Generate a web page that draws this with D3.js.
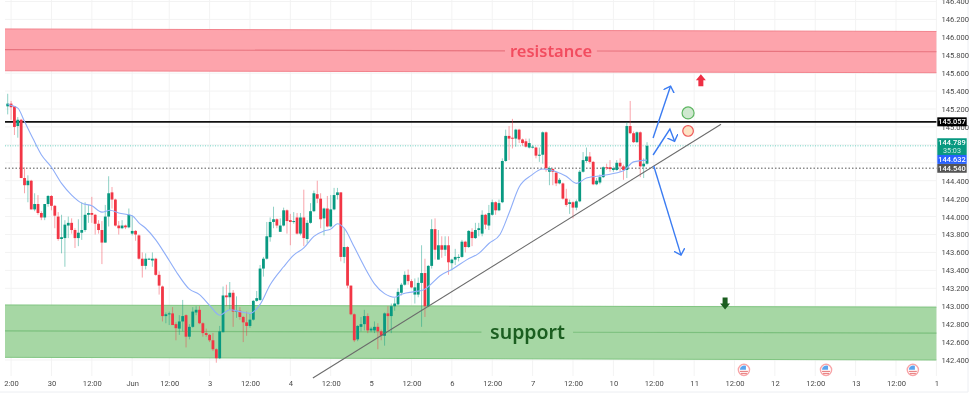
<!DOCTYPE html>
<html>
<head>
<meta charset="utf-8">
<script src="https://cdn.jsdelivr.net/npm/d3@7"></script>
<style>
  html, body { margin: 0; padding: 0; background: #fff; }
  svg { display: block; filter: blur(0.3px); }
  text { font-family: Roboto, "Liberation Sans", sans-serif; }
  .tick text { fill: #4a4a4a; font-size: 7.6px; }
  .grid line { stroke: #f3f3f3; }
  .zone-label { font-family: "Noto Sans", sans-serif; font-weight: 600; }
</style>
</head>
<body>
<div id="chart"></div>
<script>
// Hourly candles, one entry per bar, prices
const opens = [
  145.23,145.26,145.23,145.01,145.08,144.43,144.35,144.40,144.08,144.14,
  144.04,143.99,144.14,144.23,144.12,144.00,143.75,143.76,143.90,143.93,
  143.85,143.76,143.82,143.85,144.02,144.04,144.02,143.92,143.85,143.71,
  144.00,144.27,144.19,143.90,143.87,143.90,143.88,143.81,143.84,143.79,
  143.53,143.45,143.53,143.51,143.53,143.35,143.22,142.89,142.91,142.92,
  142.80,142.75,142.83,142.90,142.66,142.77,142.93,142.96,142.81,142.70,
  142.68,142.62,142.52,142.42,142.71,143.12,143.10,143.15,142.94,142.95,
  142.88,142.82,142.78,142.85,143.06,143.07,143.42,143.53,143.77,143.94,
  143.97,143.83,143.90,144.07,143.96,143.95,143.99,143.81,143.99,143.75,
  143.93,144.06,144.25,144.20,143.98,144.09,143.89,144.08,144.24,144.27,
  143.55,143.66,143.23,142.91,142.63,142.77,142.80,142.89,142.73,142.73,
  142.77,142.72,142.67,142.92,142.89,143.00,143.02,143.15,143.24,143.35,
  143.28,143.13,143.13,143.26,143.37,143.00,143.45,143.86,143.52,143.68,
  143.63,143.68,143.48,143.52,143.55,143.55,143.72,143.66,143.83,143.76,
  143.85,143.81,144.02,143.90,144.02,144.16,144.07,144.16,144.62,144.90,
  144.88,144.87,144.97,144.86,144.84,144.77,144.78,144.77,144.68,144.69,
  144.94,144.50,144.53,144.49,144.37,144.37,144.20,144.14,144.16,144.10,
  144.17,144.50,144.62,144.67,144.61,144.36,144.38,144.44,144.55,144.55,
  144.52,144.52,144.60,144.56,144.52,145.01,144.93,144.83,144.94,144.56,144.59
];
const closes = [
  145.26,145.22,145.00,145.08,144.43,144.35,144.40,144.08,144.14,144.04,
  143.99,144.14,144.23,144.12,144.01,143.75,143.77,143.91,143.93,143.85,
  143.76,143.82,143.85,144.02,144.04,144.02,143.92,143.85,143.71,144.00,
  144.26,144.19,143.90,143.87,143.90,143.88,144.02,143.84,143.80,143.53,
  143.45,143.53,143.53,143.53,143.35,143.23,142.89,142.91,142.92,142.79,
  142.755,142.83,142.89,142.66,142.77,142.94,142.96,142.81,142.70,142.68,
  142.62,142.52,142.42,142.72,143.12,143.10,143.15,142.94,142.95,142.88,
  142.82,142.78,142.85,143.06,143.09,143.42,143.53,143.78,143.94,143.97,
  143.90,143.90,144.07,143.95,143.94,143.95,143.81,143.99,143.76,143.93,
  144.06,144.26,144.20,143.97,144.09,143.89,144.08,144.24,144.27,143.55,
  143.66,143.23,142.91,142.62,142.78,142.80,142.89,142.73,142.75,142.77,
  142.72,142.67,142.92,142.89,143.00,143.03,143.16,143.24,143.35,143.28,
  143.21,143.21,143.26,143.37,143.00,143.45,143.86,143.63,143.68,143.63,
  143.68,143.49,143.52,143.55,143.55,143.72,143.66,143.84,143.76,143.85,
  143.87,144.02,143.91,144.04,144.16,144.07,144.15,144.62,144.90,144.87,
  144.87,144.97,144.86,144.82,144.78,144.82,144.78,144.68,144.69,144.94,
  144.54,144.54,144.50,144.37,144.41,144.20,144.13,144.16,144.10,144.17,
  144.50,144.63,144.67,144.61,144.36,144.40,144.44,144.55,144.54,144.53,
  144.54,144.60,144.56,144.52,145.01,144.93,144.83,144.94,144.56,144.59,144.79
];
const highs = [
  145.37,145.29,145.23,145.11,145.09,144.55,144.46,144.41,144.26,144.24,
  144.06,144.14,144.24,144.24,144.13,144.05,144.02,143.96,144.00,143.98,
  143.87,143.97,144.16,144.16,144.13,144.22,144.03,143.96,143.95,144.13,
  144.45,144.33,144.20,143.95,143.96,143.91,144.09,144.01,143.85,143.80,
  143.60,143.59,143.54,143.60,143.54,143.39,143.23,142.93,142.94,142.99,
  142.82,142.90,143.07,142.91,142.80,142.99,143.00,143.00,142.82,142.75,
  142.69,142.70,142.53,142.78,143.22,143.24,143.27,143.18,143.11,142.99,
  142.89,142.94,142.92,143.07,143.17,143.46,143.55,143.94,143.99,144.11,
  143.98,143.98,144.10,144.08,144.03,144.05,144.04,144.04,144.30,143.96,
  144.15,144.29,144.40,144.26,144.10,144.23,144.24,144.32,144.32,144.27,
  143.87,143.67,143.23,142.92,142.79,142.88,142.96,142.92,142.77,142.83,
  142.81,142.74,142.93,143.00,143.03,143.09,143.20,143.26,143.39,143.41,
  143.30,143.31,143.32,143.68,143.53,143.46,143.97,143.98,143.85,143.78,
  143.78,143.78,143.53,143.64,143.58,143.74,143.73,143.85,143.87,143.93,
  143.93,144.07,144.03,144.13,144.19,144.17,144.19,144.65,144.97,145.01,
  145.09,144.98,144.98,144.87,144.87,144.87,144.80,144.78,144.77,144.95,
  144.95,144.56,144.54,144.50,144.43,144.38,144.31,144.19,144.17,144.19,
  144.52,144.72,144.77,144.72,144.62,144.43,144.47,144.56,144.59,144.63,
  144.56,144.63,144.65,144.58,145.05,145.29,144.95,144.95,144.95,144.65,144.83
];
const lows = [
  145.14,145.08,144.91,144.88,144.43,144.26,144.16,144.08,144.06,144.02,
  143.96,143.96,144.11,144.07,143.87,143.73,143.59,143.44,143.76,143.81,
  143.65,143.67,143.74,143.83,143.93,143.93,143.80,143.81,143.47,143.71,
  143.89,144.09,143.89,143.80,143.86,143.86,143.87,143.79,143.73,143.52,
  143.32,143.41,143.52,143.44,143.34,143.13,142.83,142.81,142.79,142.79,
  142.62,142.68,142.72,142.54,142.63,142.76,142.90,142.80,142.66,142.66,
  142.60,142.50,142.37,142.41,142.71,143.00,142.96,142.77,142.87,142.85,
  142.60,142.67,142.76,142.84,143.05,143.06,143.33,143.52,143.72,143.87,
  143.87,143.83,143.89,143.81,143.68,143.92,143.80,143.79,143.67,143.70,
  143.92,144.05,144.15,143.87,143.79,143.88,143.88,144.07,144.19,143.50,
  143.48,143.20,142.90,142.60,142.61,142.72,142.73,142.70,142.71,142.70,
  142.52,142.62,142.56,142.73,142.70,142.95,143.01,143.12,143.23,143.24,
  143.20,143.03,143.10,142.77,142.88,142.99,143.42,143.52,143.52,143.54,
  143.56,143.35,143.40,143.46,143.50,143.54,143.60,143.65,143.67,143.75,
  143.78,143.78,143.86,143.85,144.01,144.02,144.06,144.15,144.61,144.63,
  144.76,144.78,144.82,144.79,144.77,144.76,144.76,144.65,144.61,144.59,
  144.50,144.35,144.35,144.34,144.36,144.19,144.11,144.03,143.98,144.07,
  144.16,144.49,144.60,144.59,144.35,144.35,144.36,144.43,144.52,144.50,
  144.50,144.51,144.50,144.41,144.43,144.92,144.82,144.82,144.44,144.43,144.58
];

// Moving average, sampled at these bars
const maBars = [0,3,5,7.5,10,13,16,19,22,25,28,30.4,33,37,39,41,44,47,50,54,57,60,63,66,69,72,75,78,82,85,88,91,94,96,98,100,103,106,109,112,115,117.5,120.5,123.5,125,128.5,132,136.5,140,143,146.3,149,152,155.6,159,163,166,169,172,177,183,186,190];
const maValues = [145.25,145.21,145.06,144.87,144.69,144.55,144.37,144.24,144.15,144.12,144.05,144.07,144.04,144.01,143.93,143.87,143.74,143.57,143.39,143.19,143.13,143.01,142.90,142.96,142.94,142.92,143.02,143.24,143.44,143.57,143.65,143.78,143.84,143.86,143.92,143.87,143.66,143.44,143.25,143.14,143.10,143.14,143.16,143.18,143.22,143.34,143.41,143.52,143.59,143.70,143.80,144.04,144.33,144.46,144.53,144.50,144.45,144.37,144.43,144.46,144.51,144.61,144.63];

// Time axis: bar index of every label
const timeTicks = [1,13,25,37,48,60,72,84,96,108,120,132,144,156,168,180,192,204,216,228,240,252,264,276];
const timeLabels = ['2:00','30','12:00','Jun','12:00','3','12:00','4','12:00','5','12:00','6','12:00','7','12:00','10','12:00','11','12:00','12','12:00','13','12:00','1'];
const priceTicks = [142.4,142.6,142.8,143,143.2,143.4,143.6,143.8,144,144.2,144.4,144.6,144.8,145,145.2,145.4,145.6,145.8,146,146.2,146.4];
// These two sit behind the price tags in the reference
const hiddenPriceLabels = [144.6, 144.8];

// Zones [left, right]; the drawn boxes lean slightly
const zoneEnds = [-0.8, 276];
const resistanceTop = [146.093, 146.065];
const resistanceBottom = [145.627, 145.605];
const resistanceMid = [145.862, 145.839];
const supportTop = [143.014, 142.99];
const supportBottom = [142.43, 142.4];
const supportMid = [142.724, 142.7];

// Price lines and tags
const keyLevel = 145.057;
const lastPrice = 144.789;
const lastCountdown = '35:03';
const maPrice = 144.632;
const lowLevel = 144.54;

// Drawn annotations, as [bar, price]
const trendLine = [[90.7, 142.2], [212, 145.03]];
const arrowUp = [[191.8, 144.877], [197, 145.456]];
const arrowShort = [[191.8, 144.687], [196.8, 144.977], [198.2, 144.84]];
const arrowDown = [[192, 144.564], [200.1, 143.57]];
const flagBars = [218.8, 243.2, 269];

const width = 977, height = 393;
const x = d3.scaleLinear().domain([0, 276]).range([7.7, 936.4]);
const y = d3.scaleLinear().domain([142.4, 146]).range([360, 37.3]);
const upColor = '#089981', downColor = '#f23645', arrowColor = '#3b7cf2';
const plotRight = x(276);
const priceFormat = d3.format('.3f');

const svg = d3.select('#chart').append('svg')
  .attr('width', width)
  .attr('height', height);

// Arrow head, same shape for the three blue lines
svg.append('defs').append('marker')
  .attr('id', 'arrow-head')
  .attr('markerUnits', 'strokeWidth')
  .attr('refX', '4')
  .attr('refY', '4')
  .attr('markerWidth', '10')
  .attr('markerHeight', '10')
  .attr('orient', 'auto')
  .append('path')
  .attr('d', 'M0,0 L4,4 L0,8')
  .attr('stroke', arrowColor)
  .attr('fill', 'none');

// Grid
svg.append('g').attr('class', 'grid')
  .selectAll('line').data(timeTicks).join('line')
  .attr('x1', d => x(d)).attr('x2', d => x(d))
  .attr('y1', 0).attr('y2', 376);
svg.append('g').attr('class', 'grid')
  .selectAll('line').data(priceTicks).join('line')
  .attr('x1', 5).attr('x2', plotRight)
  .attr('y1', d => y(d)).attr('y2', d => y(d));

// Frame on the right and at the bottom
svg.append('line').attr('x1', 968).attr('x2', 968).attr('y1', 0).attr('y2', 392).attr('stroke', '#eceef2');
svg.append('line').attr('x1', 0).attr('x2', 968).attr('y1', 392).attr('y2', 392).attr('stroke', '#eceef2');

// Axes
const xAxis = d3.axisBottom(x)
  .tickValues(timeTicks)
  .tickFormat((d, i) => timeLabels[i])
  .tickSize(0);
svg.append('g').attr('transform', 'translate(0,378)').call(xAxis)
  .call(g => g.select('.domain').remove());

const yAxis = d3.axisRight(y)
  .tickValues(priceTicks.filter(d => !hiddenPriceLabels.includes(d)))
  .tickFormat(priceFormat)
  .tickSize(0)
  .tickPadding(0);
svg.append('g').attr('transform', 'translate(941.5,0)').call(yAxis)
  .call(g => g.select('.domain').remove());

// Zones
function drawZone(top, bottom, fill, edge) {
  const pts = [[zoneEnds[0], top[0]], [zoneEnds[1], top[1]], [zoneEnds[1], bottom[1]], [zoneEnds[0], bottom[0]]];
  svg.append('polygon')
    .attr('points', pts.map(d => [x(d[0]), y(d[1])].join(',')).join(' '))
    .attr('fill', fill);
  [top, bottom].forEach(level => {
    svg.append('line')
      .attr('x1', x(zoneEnds[0])).attr('x2', x(zoneEnds[1]))
      .attr('y1', y(level[0])).attr('y2', y(level[1]))
      .attr('stroke', edge);
  });
}
// Mid line of a zone, with a gap left for its label
function drawMid(level, gapFrom, gapTo, edge) {
  const at = bar => level[0] + (level[1] - level[0]) * (bar - zoneEnds[0]) / (zoneEnds[1] - zoneEnds[0]);
  [[zoneEnds[0], gapFrom], [gapTo, zoneEnds[1]]].forEach(seg => {
    svg.append('line')
      .attr('x1', x(seg[0])).attr('x2', x(seg[1]))
      .attr('y1', y(at(seg[0]))).attr('y2', y(at(seg[1])))
      .attr('stroke', edge)
      .attr('stroke-width', 1.2);
  });
}
drawZone(resistanceTop, resistanceBottom, '#fda4ac', '#f2838d');
drawMid(resistanceMid, 147.8, 175.1, '#e8747f');
drawZone(supportTop, supportBottom, '#a6d7a4', '#80c581');
drawMid(supportMid, 140.8, 168, '#7cc07e');

svg.append('text')
  .attr('class', 'zone-label')
  .attr('x', x(161.5)).attr('y', 57)
  .attr('text-anchor', 'middle')
  .attr('font-size', 16.5)
  .attr('fill', '#f24c5f')
  .text('resistance');
svg.append('text')
  .attr('class', 'zone-label')
  .attr('x', x(154.5)).attr('y', 339)
  .attr('text-anchor', 'middle')
  .attr('font-size', 19.5)
  .attr('fill', '#1b5e20')
  .text('support');

// Price lines
svg.append('line')
  .attr('x1', x(-0.8)).attr('x2', plotRight)
  .attr('y1', y(keyLevel)).attr('y2', y(keyLevel))
  .attr('stroke', '#111').attr('stroke-width', 1.7);
svg.append('line')
  .attr('x1', x(-0.8)).attr('x2', plotRight)
  .attr('y1', y(lastPrice)).attr('y2', y(lastPrice))
  .attr('stroke', '#6fd4c4').attr('stroke-dasharray', '1,1.5');
svg.append('line')
  .attr('x1', x(-0.8)).attr('x2', plotRight)
  .attr('y1', y(lowLevel)).attr('y2', y(lowLevel))
  .attr('stroke', '#555').attr('stroke-dasharray', '1.5,2');

// Candles
const bars = d3.range(opens.length);
svg.append('g').selectAll('line').data(bars).join('line')
  .attr('x1', d => x(d)).attr('x2', d => x(d))
  .attr('y1', d => y(highs[d])).attr('y2', d => y(lows[d]))
  .attr('stroke', d => closes[d] >= opens[d] ? upColor : downColor)
  .attr('stroke-opacity', 0.45);
svg.append('g').selectAll('rect').data(bars).join('rect')
  .attr('x', d => x(d) - 1.4)
  .attr('width', 2.8)
  .attr('y', d => y(Math.max(opens[d], closes[d])))
  .attr('height', d => Math.max(1, Math.abs(y(opens[d]) - y(closes[d]))))
  .attr('fill', d => closes[d] >= opens[d] ? upColor : downColor);

// Moving average
const maLine = d3.line()
  .x((d, i) => x(maBars[i]))
  .y(d => y(d))
  .curve(d3.curveMonotoneX);
svg.append('path')
  .attr('d', maLine(maValues))
  .attr('fill', 'none')
  .attr('stroke', '#8faef8')
  .attr('stroke-width', 1.1);

// Trend line and arrows
const pathLine = d3.line().x(d => x(d[0])).y(d => y(d[1]));
svg.append('path')
  .attr('d', pathLine(trendLine))
  .attr('fill', 'none').attr('stroke', '#6b6b6b').attr('stroke-width', 1.1);
[arrowUp, arrowShort, arrowDown].forEach(pts => {
  svg.append('path')
    .attr('d', pathLine(pts))
    .attr('fill', 'none')
    .attr('stroke', arrowColor)
    .attr('stroke-width', 1.4)
    .attr('marker-end', 'url(#arrow-head)');
});

// Target circles
svg.append('circle').attr('cx', x(202.2)).attr('cy', y(145.156)).attr('r', 6)
  .attr('fill', '#cfe8cf').attr('stroke', '#5fb763').attr('stroke-width', 1.2);
svg.append('circle').attr('cx', x(202.2)).attr('cy', y(144.955)).attr('r', 5.3)
  .attr('fill', '#fde3c4').attr('stroke', '#ee5a5a').attr('stroke-width', 1.2);

// Block arrows above and below the zones
const blockArrow = 'M-2.5,6 L-2.5,0 L-5,0 L0,-6 L5,0 L2.5,0 L2.5,6 Z';
svg.append('path').attr('d', blockArrow)
  .attr('transform', `translate(${x(206)},${y(145.52)})`)
  .attr('fill', '#ee2f44');
svg.append('path').attr('d', blockArrow)
  .attr('transform', `translate(${x(213.2)},${y(143.03)}) rotate(180)`)
  .attr('fill', '#1b5e20');

// Economic event flags
const flags = svg.append('g').selectAll('g').data(flagBars).join('g')
  .attr('transform', d => `translate(${x(d)},${y(142.29)})`);
flags.append('circle').attr('r', 5.6).attr('fill', '#fff').attr('stroke', '#f8a5a8').attr('stroke-width', 1.4);
flags.append('rect').attr('x', -4).attr('y', 1).attr('width', 8).attr('height', 1).attr('fill', '#e57373');
flags.append('rect').attr('x', -3).attr('y', 3).attr('width', 6).attr('height', 1).attr('fill', '#e57373');
flags.append('path').attr('d', 'M-4,0 A4.2,4.2 0 0 1 2,-4 L2,0 Z').attr('fill', '#5ba4ee');

// Price tags on the axis
function drawTag(price, h, offset, fill, label, sub) {
  const top = y(price) + offset;
  svg.append('rect')
    .attr('x', 937.3).attr('y', top).attr('width', 29.4).attr('height', h)
    .attr('fill', fill);
  svg.append('text')
    .attr('x', 952).attr('y', top + 7)
    .attr('text-anchor', 'middle')
    .attr('font-size', 7.4).attr('font-weight', 500)
    .attr('fill', '#fff')
    .text(label);
  if (sub) {
    svg.append('text')
      .attr('x', 952).attr('y', top + 14.5)
      .attr('text-anchor', 'middle')
      .attr('font-size', 7.2)
      .attr('fill', '#c8ece4')
      .text(sub);
  }
}
drawTag(keyLevel, 9, -4.5, '#000', priceFormat(keyLevel));
drawTag(lastPrice, 16.8, -7.6, upColor, priceFormat(lastPrice), lastCountdown);
drawTag(maPrice, 9, -5, '#2962ff', priceFormat(maPrice));
drawTag(lowLevel, 8.8, -4.2, '#555', priceFormat(lowLevel));
</script>
</body>
</html>
